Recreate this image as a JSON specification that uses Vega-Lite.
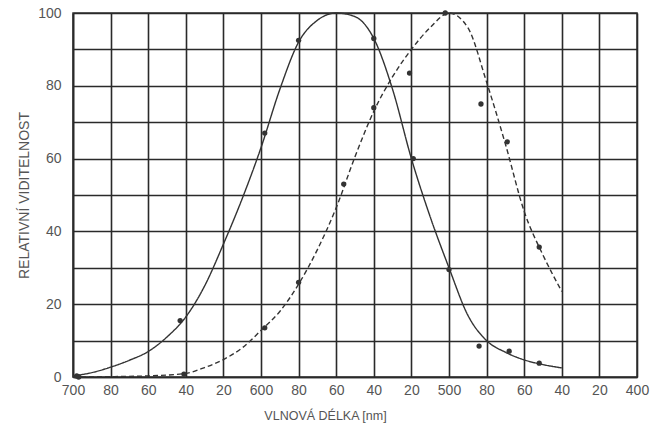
{
  "$schema": "https://vega.github.io/schema/vega-lite/v6.json",
  "width": 564,
  "height": 364,
  "autosize": {"type": "none"},
  "padding": {"left": 73, "top": 13, "right": 15, "bottom": 60},
  "background": "white",
  "config": {
    "font": "Liberation Sans",
    "view": {"stroke": "#333", "strokeWidth": 1.5},
    "axis": {"labelColor": "#555", "titleColor": "#555", "labelFont": "Liberation Sans", "titleFont": "Liberation Sans"}
  },
  "datasets": {
    "curves": [
      {"series": "fotopické", "wl": 700, "v": 0.3},
      {"series": "fotopické", "wl": 690, "v": 1.2},
      {"series": "fotopické", "wl": 680, "v": 2.7},
      {"series": "fotopické", "wl": 670, "v": 4.6},
      {"series": "fotopické", "wl": 660, "v": 7},
      {"series": "fotopické", "wl": 650, "v": 11},
      {"series": "fotopické", "wl": 640, "v": 16.5},
      {"series": "fotopické", "wl": 630, "v": 25},
      {"series": "fotopické", "wl": 620, "v": 36.5},
      {"series": "fotopické", "wl": 610, "v": 49},
      {"series": "fotopické", "wl": 600, "v": 63},
      {"series": "fotopické", "wl": 590, "v": 79},
      {"series": "fotopické", "wl": 580, "v": 92},
      {"series": "fotopické", "wl": 570, "v": 98},
      {"series": "fotopické", "wl": 560, "v": 100},
      {"series": "fotopické", "wl": 550, "v": 99},
      {"series": "fotopické", "wl": 540, "v": 93},
      {"series": "fotopické", "wl": 530, "v": 79},
      {"series": "fotopické", "wl": 520, "v": 60},
      {"series": "fotopické", "wl": 510, "v": 44},
      {"series": "fotopické", "wl": 500, "v": 30},
      {"series": "fotopické", "wl": 490, "v": 17},
      {"series": "fotopické", "wl": 480, "v": 10},
      {"series": "fotopické", "wl": 470, "v": 6.8},
      {"series": "fotopické", "wl": 460, "v": 4.7},
      {"series": "fotopické", "wl": 450, "v": 3.4},
      {"series": "fotopické", "wl": 440, "v": 2.5},
      {"series": "skotopické", "wl": 700, "v": 0},
      {"series": "skotopické", "wl": 680, "v": 0.1},
      {"series": "skotopické", "wl": 660, "v": 0.3},
      {"series": "skotopické", "wl": 640, "v": 1},
      {"series": "skotopické", "wl": 630, "v": 2.6},
      {"series": "skotopické", "wl": 620, "v": 4.8},
      {"series": "skotopické", "wl": 610, "v": 8},
      {"series": "skotopické", "wl": 600, "v": 12.8},
      {"series": "skotopické", "wl": 590, "v": 18},
      {"series": "skotopické", "wl": 580, "v": 25.5},
      {"series": "skotopické", "wl": 570, "v": 35},
      {"series": "skotopické", "wl": 560, "v": 46.5},
      {"series": "skotopické", "wl": 550, "v": 60.5},
      {"series": "skotopické", "wl": 540, "v": 73},
      {"series": "skotopické", "wl": 530, "v": 82.5},
      {"series": "skotopické", "wl": 520, "v": 90},
      {"series": "skotopické", "wl": 510, "v": 96},
      {"series": "skotopické", "wl": 500, "v": 100},
      {"series": "skotopické", "wl": 490, "v": 96},
      {"series": "skotopické", "wl": 480, "v": 81},
      {"series": "skotopické", "wl": 470, "v": 64},
      {"series": "skotopické", "wl": 460, "v": 45.5},
      {"series": "skotopické", "wl": 450, "v": 33.5},
      {"series": "skotopické", "wl": 440, "v": 23.5}
    ],
    "points": [
      {"series": "fotopické", "wl": 698, "v": 0.3},
      {"series": "fotopické", "wl": 643, "v": 15.5},
      {"series": "fotopické", "wl": 598, "v": 67},
      {"series": "fotopické", "wl": 580, "v": 92.5},
      {"series": "fotopické", "wl": 540, "v": 93},
      {"series": "fotopické", "wl": 519, "v": 60},
      {"series": "fotopické", "wl": 500, "v": 29.5},
      {"series": "fotopické", "wl": 484, "v": 8.5},
      {"series": "fotopické", "wl": 468, "v": 7.1},
      {"series": "fotopické", "wl": 452, "v": 3.8},
      {"series": "skotopické", "wl": 697, "v": 0},
      {"series": "skotopické", "wl": 641, "v": 0.8},
      {"series": "skotopické", "wl": 598, "v": 13.5},
      {"series": "skotopické", "wl": 580, "v": 26},
      {"series": "skotopické", "wl": 556, "v": 53},
      {"series": "skotopické", "wl": 540, "v": 74},
      {"series": "skotopické", "wl": 521, "v": 83.5},
      {"series": "skotopické", "wl": 502, "v": 100},
      {"series": "skotopické", "wl": 483, "v": 75},
      {"series": "skotopické", "wl": 469, "v": 64.6},
      {"series": "skotopické", "wl": 452, "v": 35.7}
    ]
  },
  "encoding": {
    "x": {
      "field": "wl", "type": "quantitative",
      "scale": {"domain": [400, 700], "reverse": true, "nice": false, "zero": false},
      "axis": {
        "values": [400, 420, 440, 460, 480, 500, 520, 540, 560, 580, 600, 620, 640, 660, 680, 700],
        "labelExpr": "datum.value % 100 == 0 ? datum.value : datum.value % 100",
        "grid": true, "gridColor": "#2a2a2a", "gridWidth": 1.6, "gridOpacity": 1,
        "ticks": false, "domain": true, "domainColor": "#2a2a2a", "domainWidth": 1.6,
        "labelFontSize": 14, "labelPadding": 6, "labelFlush": false,
        "title": "VLNOVÁ DÉLKA [nm]", "titleFontSize": 12.5, "titleFontWeight": "normal",
        "titlePadding": 12, "titleX": 252
      }
    },
    "y": {
      "field": "v", "type": "quantitative",
      "scale": {"domain": [0, 100], "nice": false},
      "axis": {
        "values": [0, 10, 20, 30, 40, 50, 60, 70, 80, 90, 100],
        "labelExpr": "datum.value % 20 == 0 ? datum.label : ''",
        "grid": true, "gridColor": "#2a2a2a", "gridWidth": 1.6, "gridOpacity": 1,
        "ticks": false, "domain": true, "domainColor": "#2a2a2a", "domainWidth": 1.6,
        "labelFontSize": 14, "labelPadding": 12, "labelFlush": false,
        "title": "RELATIVNÍ VIDITELNOST", "titleFontSize": 14, "titleFontWeight": "normal",
        "titlePadding": 6
      }
    }
  },
  "layer": [
    {
      "data": {"name": "curves"},
      "mark": {"type": "line", "interpolate": "monotone", "color": "#333", "strokeWidth": 1.4},
      "encoding": {
        "detail": {"field": "series"},
        "strokeDash": {
          "field": "series", "type": "nominal",
          "scale": {"domain": ["fotopické", "skotopické"], "range": [[1, 0], [5, 3]]},
          "legend": null
        }
      }
    },
    {
      "data": {"name": "points"},
      "mark": {"type": "point", "filled": true, "shape": "circle", "size": 28, "color": "#333", "opacity": 1},
      "encoding": {}
    }
  ]
}
